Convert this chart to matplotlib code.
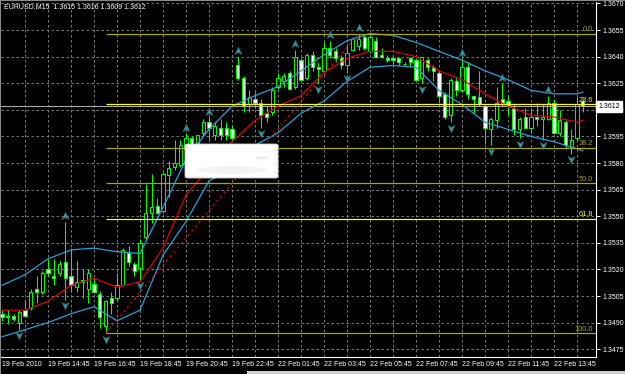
import numpy as np
import matplotlib
matplotlib.use("Agg")
import matplotlib.pyplot as plt
from matplotlib.path import Path
from matplotlib.patches import Rectangle, FancyBboxPatch, Ellipse
from matplotlib.transforms import blended_transform_factory

plt.rcParams['font.family'] = ['Liberation Sans', 'DejaVu Sans']

# EURUSD M15 bars, 19 Feb 2010 12:45 -> 22 Feb 2010 14:00
opens = [1.3495, 1.3494, 1.3494, 1.3490, 1.3497, 1.3498, 1.3509, 1.3507, 1.3520, 1.3516,
         1.3518, 1.3524, 1.3516, 1.3510, 1.3514, 1.3509, 1.3512, 1.3506, 1.3488, 1.3504,
         1.3504, 1.3511, 1.3529, 1.3523, 1.3521, 1.3538, 1.3552, 1.3556, 1.3553, 1.3573,
         1.3578, 1.3579, 1.3588, 1.3594, 1.3590, 1.3597, 1.3603, 1.3596, 1.3600, 1.3600,
         1.3599, 1.3635, 1.3628, 1.3613, 1.3616, 1.3614, 1.3608, 1.3609, 1.3623, 1.3626,
         1.3631, 1.3623, 1.3638, 1.3628, 1.3641, 1.3634, 1.3632, 1.3645, 1.3643, 1.3639,
         1.3635, 1.3644, 1.3646, 1.3651, 1.3643, 1.3649, 1.3641, 1.3639, 1.3639, 1.3639,
         1.3636, 1.3639, 1.3638, 1.3628, 1.3638, 1.3634, 1.3631, 1.3619, 1.3607, 1.3626,
         1.3621, 1.3634, 1.3618, 1.3617, 1.3612, 1.3599, 1.3604, 1.3616, 1.3615, 1.3611,
         1.3599, 1.3606, 1.3600, 1.3606, 1.3605, 1.3605, 1.3614, 1.3597, 1.3603, 1.3589,
         1.3594, 1.3615]
highs = [1.3497, 1.3497, 1.3495, 1.3497, 1.3503, 1.3509, 1.3516, 1.3519, 1.3526, 1.3526,
         1.3525, 1.3547, 1.3532, 1.3525, 1.3520, 1.3520, 1.3515, 1.3508, 1.3503, 1.3507,
         1.3518, 1.3532, 1.3533, 1.3524, 1.3537, 1.3568, 1.3574, 1.3560, 1.3575, 1.3581,
         1.3593, 1.3593, 1.3597, 1.3595, 1.3596, 1.3605, 1.3606, 1.3603, 1.3605, 1.3603,
         1.3601, 1.3640, 1.3629, 1.3621, 1.3620, 1.3616, 1.3612, 1.3623, 1.3631, 1.3631,
         1.3632, 1.3644, 1.3639, 1.3642, 1.3643, 1.3637, 1.3648, 1.3649, 1.3645, 1.3641,
         1.3647, 1.3651, 1.3653, 1.3652, 1.3652, 1.3651, 1.3645, 1.3641, 1.3640, 1.3640,
         1.3637, 1.3640, 1.3639, 1.3640, 1.3639, 1.3635, 1.3632, 1.3620, 1.3628, 1.3628,
         1.3639, 1.3637, 1.3618, 1.3632, 1.3613, 1.3606, 1.3623, 1.3625, 1.3618, 1.3613,
         1.3606, 1.3611, 1.3611, 1.3614, 1.3613, 1.3618, 1.3616, 1.3610, 1.3604, 1.3599,
         1.3617, 1.3616]
lows = [1.3491, 1.3489, 1.3491, 1.3486, 1.3493, 1.3497, 1.3501, 1.3506, 1.3516, 1.3511,
        1.3516, 1.3503, 1.3507, 1.3507, 1.3504, 1.3501, 1.3507, 1.3487, 1.3484, 1.3495,
        1.3503, 1.3511, 1.3522, 1.3516, 1.3514, 1.3537, 1.3546, 1.3551, 1.3552, 1.3561,
        1.3576, 1.3578, 1.3584, 1.3587, 1.3587, 1.3595, 1.3593, 1.3593, 1.3593, 1.3593,
        1.3593, 1.3627, 1.3609, 1.3609, 1.3611, 1.3600, 1.3603, 1.3607, 1.3622, 1.3623,
        1.3621, 1.3622, 1.3627, 1.3627, 1.3632, 1.3625, 1.3631, 1.3639, 1.3637, 1.3633,
        1.3631, 1.3643, 1.3644, 1.3644, 1.3642, 1.3639, 1.3639, 1.3637, 1.3636, 1.3635,
        1.3635, 1.3634, 1.3626, 1.3625, 1.3632, 1.3626, 1.3614, 1.3605, 1.3603, 1.3618,
        1.3620, 1.3616, 1.3608, 1.3612, 1.3591, 1.3590, 1.3600, 1.3612, 1.3607, 1.3596,
        1.3594, 1.3599, 1.3597, 1.3601, 1.3593, 1.3604, 1.3597, 1.3595, 1.3588, 1.3585,
        1.3593, 1.3609]
closes = [1.3493, 1.3493, 1.3492, 1.3496, 1.3494, 1.3507, 1.3507, 1.3518, 1.3518, 1.3515,
          1.3523, 1.3515, 1.3511, 1.3513, 1.3513, 1.3518, 1.3507, 1.3493, 1.3502, 1.3501,
          1.3511, 1.3531, 1.3524, 1.3519, 1.3535, 1.3552, 1.3555, 1.3552, 1.3574, 1.3577,
          1.3580, 1.3590, 1.3594, 1.3590, 1.3596, 1.3603, 1.3600, 1.3601, 1.3596, 1.3596,
          1.3594, 1.3628, 1.3612, 1.3617, 1.3614, 1.3607, 1.3606, 1.3621, 1.3628, 1.3629,
          1.3622, 1.3640, 1.3627, 1.3641, 1.3634, 1.3633, 1.3645, 1.3641, 1.3639, 1.3635,
          1.3642, 1.3650, 1.3650, 1.3645, 1.3651, 1.3640, 1.3640, 1.3638, 1.3638, 1.3637,
          1.3636, 1.3637, 1.3627, 1.3640, 1.3634, 1.3632, 1.3618, 1.3606, 1.3627, 1.3621,
          1.3634, 1.3619, 1.3616, 1.3613, 1.3600, 1.3605, 1.3614, 1.3614, 1.3612, 1.3599,
          1.3605, 1.3600, 1.3606, 1.3605, 1.3606, 1.3614, 1.3597, 1.3604, 1.3590, 1.3593,
          1.3613, 1.3612]

# indicator lines read every 4 bars (plus the last bar)
band_bars = [0, 4, 8, 12, 16, 20, 24, 28, 32, 36, 40, 44, 48, 52, 56, 60, 64, 68, 72,
             76, 80, 84, 88, 92, 96, 100, 101]
band_upper = [1.3511, 1.3517, 1.3526, 1.3531, 1.3532, 1.3530, 1.3529, 1.3555, 1.3582,
              1.3599, 1.3612, 1.3618, 1.3623, 1.3632, 1.3641, 1.3649, 1.3653, 1.3652,
              1.3648, 1.3643, 1.3638, 1.3632, 1.3627, 1.3621, 1.3619, 1.3619, 1.3620]
band_mid = [1.3497, 1.3497, 1.3502, 1.3511, 1.3515, 1.3510, 1.3513, 1.3532, 1.3562,
            1.3577, 1.3592, 1.3604, 1.3612, 1.3618, 1.3631, 1.3639, 1.3643, 1.3643,
            1.3640, 1.3632, 1.3627, 1.3619, 1.3612, 1.3607, 1.3606, 1.3603, 1.3604]
band_lower = [1.3482, 1.3486, 1.3490, 1.3495, 1.3499, 1.3491, 1.3497, 1.3528, 1.3547,
              1.3570, 1.3576, 1.3590, 1.3597, 1.3608, 1.3615, 1.3626, 1.3634, 1.3635,
              1.3634, 1.3621, 1.3613, 1.3603, 1.3599, 1.3595, 1.3592, 1.3588, 1.3587]

fractal_up = [11, 32, 36, 41, 51, 57, 62, 80, 87, 95]
fractal_down = [3, 11, 18, 24, 45, 55, 60, 73, 78, 85, 90, 94, 99]

fib_levels = [0.0, 23.6, 38.2, 50.0, 61.8, 100.0]
fib_colors = ['#a8a800', '#ffff00', '#a8a800', '#a8a800', '#ffff00', '#a8a800']
fib_lo_bar, fib_hi_bar = 18, 62

x_label_bars = [0, 8, 16, 24, 32, 40, 48, 56, 64, 72, 80, 88, 96]
x_labels = ['19 Feb 2010', '19 Feb 14:45', '19 Feb 16:45', '19 Feb 18:45', '19 Feb 20:45',
            '19 Feb 22:45', '22 Feb 01:45', '22 Feb 03:45', '22 Feb 05:45', '22 Feb 07:45',
            '22 Feb 09:45', '22 Feb 11:45', '22 Feb 13:45']
y_ticks = np.round(np.arange(1.3475, 1.36705, 0.0015), 4)

W, H = 625, 374
fig = plt.figure(figsize=(W / 100, H / 100), dpi=100, facecolor='black')
ax = fig.add_axes([1 / W, 17 / H, 595 / W, 355 / H], facecolor='black')

o = np.array(opens); h = np.array(highs); l = np.array(lows); c = np.array(closes)
x = np.arange(len(o))
x_right = 103.3

# grid
grid_kw = dict(color='#8c8c8c', lw=0.6, ls=(0, (3, 3)), zorder=1)
for yt in y_ticks:
    ax.axhline(yt, **grid_kw)
for xb in range(4, 102, 4):
    ax.axvline(xb, **grid_kw)

# candles
ax.vlines(x, l, h, color='#00ff00', lw=0.75, zorder=2)
bull = c >= o
ax.bar(x, np.maximum(np.abs(c - o), 0.00001), bottom=np.minimum(o, c), width=0.6,
       color=np.where(bull, 'black', 'white'), edgecolor='#00ff00', linewidth=0.7, zorder=3)

# bid line
ax.axhline(c[-1], color='#b0b0b0', lw=0.7, zorder=3.5)

# bands + moving average
ax.plot(band_bars, band_upper, color='#1fa2e0', lw=0.9, zorder=4)
ax.plot(band_bars, band_lower, color='#1fa2e0', lw=0.9, zorder=4)
ax.plot(band_bars, band_mid, color='#e00000', lw=0.9, zorder=4)

# fibonacci retracement
fib_hi = h[fib_hi_bar]
fib_lo = l[fib_lo_bar]
for lvl, col in zip(fib_levels, fib_colors):
    p = fib_hi - (fib_hi - fib_lo) * lvl / 100
    ax.hlines(p, fib_lo_bar, x_right, color=col, lw=0.9, zorder=4)
    ax.text(x_right - 0.5, p + 0.00004, f"{lvl:.1f}", color=col, fontsize=5.3,
            ha='right', va='bottom', zorder=4)
ax.plot([fib_lo_bar, fib_hi_bar], [fib_lo, fib_hi], color='#ff0000', lw=0.8,
        ls=(0, (2, 3)), zorder=4)

# fractal arrows
up_m = Path([(0, 1), (0.8, -0.7), (0, -0.25), (-0.8, -0.7), (0, 1)],
            [Path.MOVETO, Path.LINETO, Path.LINETO, Path.LINETO, Path.CLOSEPOLY])
dn_m = Path([(0, -1), (0.8, 0.7), (0, 0.25), (-0.8, 0.7), (0, -1)],
            [Path.MOVETO, Path.LINETO, Path.LINETO, Path.LINETO, Path.CLOSEPOLY])
ax.plot(fractal_up, h[fractal_up] + 0.0003, ls='none', marker=up_m, ms=6,
        color='#3a999e', mec='#276f74', mew=0.5, zorder=5)
ax.plot(fractal_down, l[fractal_down] - 0.0003, ls='none', marker=dn_m, ms=6,
        color='#3a999e', mec='#276f74', mew=0.5, zorder=5)

ax.set_xlim(-0.174, x_right)
ax.set_ylim(1.34706, 1.36708)

ax.yaxis.tick_right()
ax.set_yticks(y_ticks)
ax.set_yticklabels([f"{t:.4f}" for t in y_ticks])
ax.tick_params(axis='y', colors='white', length=3, width=0.7, pad=1.5, labelsize=5)
ax.set_xticks(x_label_bars)
ax.set_xticklabels(x_labels, ha='left')
ax.tick_params(axis='x', colors='white', length=0, pad=3, labelsize=5)

for side in ['left', 'top']:
    ax.spines[side].set_visible(False)
for side in ['right', 'bottom']:
    ax.spines[side].set_color('white')
    ax.spines[side].set_linewidth(0.8)

# symbol header
fig.text(4 / W, 1 - 7 / H, "EURUSD,M15  1.3615 1.3616 1.3609 1.3612", color='white',
         fontsize=5, ha='left', va='center')

# current price tag (covers the 1.3610 tick label like in the terminal)
trans = blended_transform_factory(ax.transAxes, ax.transData)
ax.text(1.004, c[-1], f"{c[-1]:.4f}", transform=trans, fontsize=5, color='black',
        ha='left', va='center', clip_on=False, zorder=10,
        bbox=dict(boxstyle='square,pad=0.3', fc='white', ec='white'))

# blanked-out label box
box = FancyBboxPatch((185 / W, 1 - 178 / H), 93 / W, 34 / H,
                     boxstyle='round,pad=0,rounding_size=0.004', transform=fig.transFigure,
                     fc='white', ec='#cfcfcf', lw=0.6, zorder=10)
fig.add_artist(box)
fig.add_artist(Ellipse((232 / W, 1 - 170 / H), 70 / W, 8 / H, transform=fig.transFigure,
                       fc='#f3f3f3', ec='none', zorder=11))
fig.add_artist(Ellipse((262 / W, 1 - 158 / H), 12 / W, 3 / H, transform=fig.transFigure,
                       fc='#ececec', ec='none', zorder=11))

# window chrome
fig.add_artist(Rectangle((0, 0), 1 / W, 1, transform=fig.transFigure, fc='#8a8a8a', ec='none'))
fig.add_artist(Rectangle((0, 1 - 1 / H), 1, 1 / H, transform=fig.transFigure, fc='#8a8a8a', ec='none'))
fig.add_artist(Rectangle((247 / W, 0), 378 / W, 3 / H, transform=fig.transFigure,
                         fc='#d4d0c8', ec='none'))

fig.savefig('out.png', dpi=100, facecolor='black')
